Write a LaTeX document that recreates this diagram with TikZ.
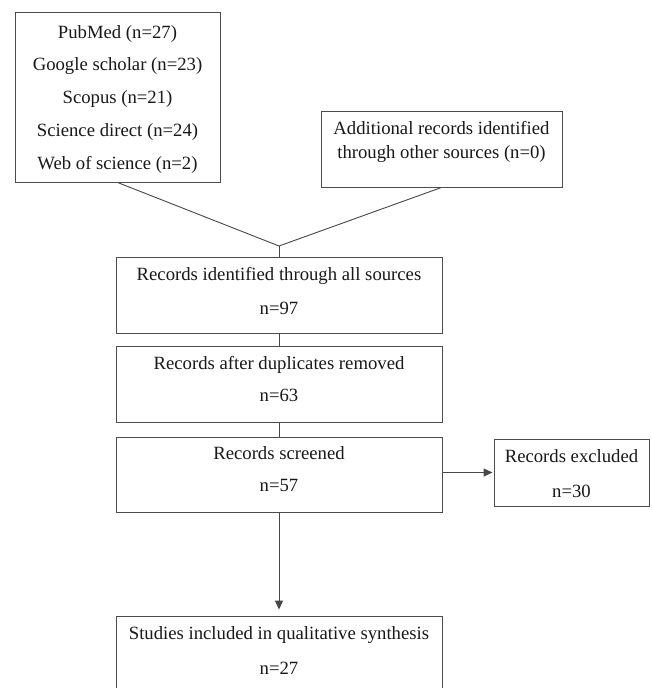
\documentclass[tikz,border=0pt]{standalone}
\usepackage{fontspec}
\setmainfont{Liberation Serif}
\usetikzlibrary{arrows.meta}
\begin{document}
\begin{tikzpicture}[x=1pt,y=-1pt,
  box/.style={draw=black!70,line width=0.9pt,rectangle,inner sep=0pt},
  txt/.style={anchor=base,inner sep=0pt,text=black!90,font=\fontsize{18.7}{22}\selectfont},
  conn/.style={draw=black!72,line width=0.9pt},
  arr/.style={conn,-{Triangle[length=9pt,width=8pt]}}]
\useasboundingbox (0,0) rectangle (651,688);
\clip (0,0) rectangle (651,688);
\fill[white] (0,0) rectangle (651,688);
% boxes
\node[box,minimum width=205pt,minimum height=170pt] (tl) at (117.5,97) {};
\node[box,minimum width=241pt,minimum height=76pt] (tr) at (441.5,149) {};
\node[box,minimum width=326pt,minimum height=76pt] (b2) at (279,295) {};
\node[box,minimum width=326pt,minimum height=76pt] (b3) at (279,384) {};
\node[box,minimum width=326pt,minimum height=75pt] (b4) at (279,474.5) {};
\node[box,minimum width=155pt,minimum height=67pt] (ex) at (571.5,472.5) {};
\node[box,minimum width=326pt,minimum height=84pt] (fi) at (279,658) {};
% texts
\node[txt] (t1) at (117.5,38) {PubMed (n=27)};
\node[txt] (t2) at (117.5,70) {Google scholar (n=23)};
\node[txt] (t3) at (117.5,103) {Scopus (n=21)};
\node[txt] (t4) at (117.5,136) {Science direct (n=24)};
\node[txt] (t5) at (117.5,169) {Web of science (n=2)};
\node[txt] (r1) at (441.5,134) {Additional records identified};
\node[txt] (r2) at (441.5,158) {through other sources (n=0)};
\node[txt] (a1) at (279,280) {Records identified through all sources};
\node[txt] (a2) at (279,314) {n=97};
\node[txt] (c1) at (279,369) {Records after duplicates removed};
\node[txt] (c2) at (279,401) {n=63};
\node[txt] (d1) at (279,459) {Records screened};
\node[txt] (d2) at (279,491) {n=57};
\node[txt] (e1) at (571.5,462) {Records excluded};
\node[txt] (e2) at (571.5,497) {n=30};
\node[txt] (f1) at (279,639) {Studies included in qualitative synthesis};
\node[txt] (f2) at (279,674) {n=27};
% connectors
\coordinate (J) at (279,246);
\draw[conn] (tl.south) -- (J);
\draw[conn] (tr.south) -- (J);
\draw[conn] (J) -- (b2.north);
\draw[conn] (b2.south) -- (b3.north);
\draw[conn] (b3.south) -- (b4.north);
\draw[arr,shorten >=1pt] (b4.east |- ex.west) -- (ex.west);
\draw[arr,shorten >=6pt] (b4.south) -- (fi.north);
\end{tikzpicture}
\end{document}
